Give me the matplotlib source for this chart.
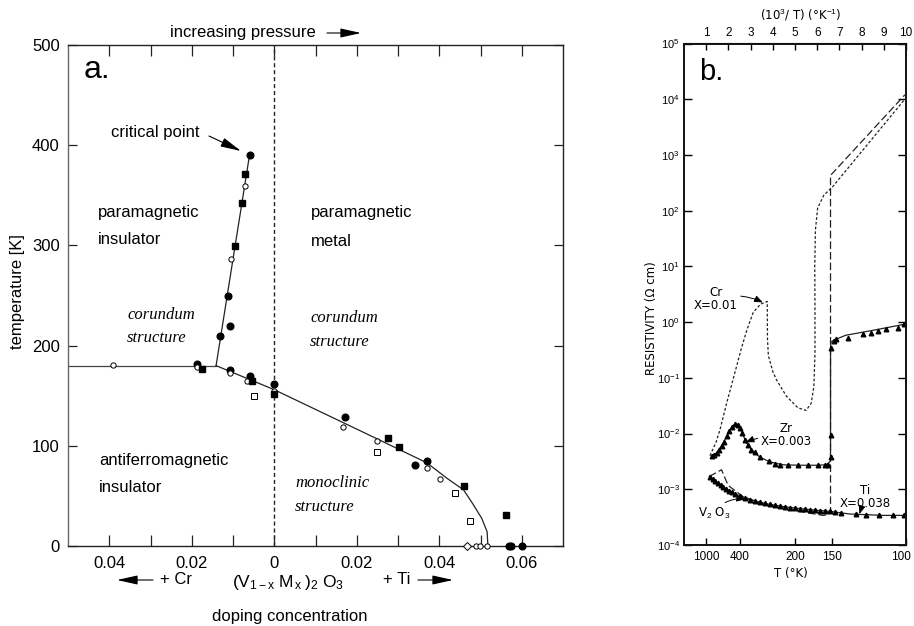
import numpy as np
import matplotlib
matplotlib.use('Agg')
import matplotlib.pyplot as plt
from matplotlib.transforms import ScaledTranslation

plt.rcParams['font.family'] = ['Liberation Sans', 'DejaVu Sans']
plt.rcParams['mathtext.fontset'] = 'custom'
plt.rcParams['mathtext.rm'] = 'Liberation Sans'
plt.rcParams['mathtext.it'] = 'Liberation Sans:italic'

# ---- panel a: phase diagram, x < 0 is Cr doping, x > 0 is Ti doping ----
fc_x = [-0.0060, -0.0112, -0.0107, -0.0131, -0.0187, -0.0107, -0.0060, 0.0,
        0.0172, 0.0340, 0.0370, 0.0568, 0.0574, 0.0600]
fc_T = [390, 250, 220, 210, 182, 176, 170, 162, 129, 80.5, 85, 0, 0, 0]
oc_x = [-0.0072, -0.0105, -0.0187, -0.0390, -0.0108, -0.0066, 0.0, 0.0167,
        0.0249, 0.0370, 0.0402, 0.0490, 0.0498, 0.0516]
oc_T = [359, 286, 179, 180.6, 172.4, 165, 155, 119, 104.5, 77.5, 66.6, 0, 0, 0]
fs_x = [-0.0070, -0.0078, -0.0095, -0.0175, -0.0054, 0.0, 0.0276, 0.0302,
        0.0459, 0.0562]
fs_T = [371, 342, 299, 177, 164.4, 152, 108, 99, 60, 31]
os_x = [-0.0048, 0.0249, 0.0439, 0.0475]
os_T = [149.7, 93.8, 53.2, 25]
od_x = [0.0467]
od_T = [0]

afi_x = [-0.05, -0.0141]
afi_T = [180, 180]
crit_x = [-0.0141, -0.0060]
crit_T = [180, 390]
mit_x = [-0.0141, 0.0, 0.0249, 0.0370, 0.0419, 0.0459, 0.0483, 0.0503,
         0.0516, 0.0518]
mit_T = [180, 156, 107, 83, 67.5, 56, 41, 27.6, 14.3, 0]

xticks_a = [-0.04, -0.03, -0.02, -0.01, 0.0, 0.01, 0.02, 0.03, 0.04, 0.05, 0.06]
xlabels_a = ['0.04', '', '0.02', '', '0', '', '0.02', '', '0.04', '', '0.06']
yticks_a = [0, 100, 200, 300, 400, 500]

# ---- panel b: resistivity vs 1000/T ----
v2o3_x = [1.14, 1.69, 1.99, 2.66, 3.71, 5.21, 6.26, 6.50, 6.60, 6.60, 9.95]
v2o3_rho = [1.7e-3, 2.24e-3, 1.17e-3, 7.4e-4, 5.2e-4, 4.0e-4, 3.4e-4, 3.5e-4,
            4.0e-4, 430, 1.2e4]
cr_x = [1.17, 1.45, 1.62, 1.92, 2.29, 2.60, 2.85, 3.12, 3.45, 3.75, 3.76, 3.80,
        4.00, 4.16, 4.61, 5.13, 5.50, 5.73, 5.85, 5.90, 5.90, 5.89, 5.92, 6.02,
        6.30, 6.70, 9.90]
cr_rho = [4.0e-3, 7.1e-3, 1.17e-2, 3.5e-2, 0.123, 0.355, 0.76, 1.5, 2.1, 2.35,
          0.5, 0.25, 0.13, 0.093, 0.047, 0.029, 0.026, 0.035, 0.07, 0.28, 2.0,
          10, 45, 112, 190, 270, 9.5e3]
zr_x = [1.24, 1.47, 1.77, 2.07, 2.29, 2.44, 2.59, 2.81, 3.11, 3.41, 3.86, 4.46,
        5.21, 5.96, 6.41, 6.60, 6.60, 6.62, 6.78, 7.28, 8.49, 9.10, 9.90]
zr_rho = [4.0e-3, 4.5e-3, 6.8e-3, 1.17e-2, 1.5e-2, 1.45e-2, 1.1e-2, 6.8e-3,
          4.8e-3, 3.8e-3, 3.1e-3, 2.75e-3, 2.7e-3, 2.7e-3, 2.75e-3, 3.2e-3,
          0.35, 0.44, 0.48, 0.58, 0.71, 0.79, 0.91]
zr_mk_x = [1.24, 1.35, 1.47, 1.59, 1.69, 1.80, 1.92, 2.04, 2.16, 2.29, 2.44,
           2.54, 2.63, 2.74, 2.89, 3.04, 3.19, 3.41, 3.83, 4.09, 4.31, 4.69,
           5.13, 5.58, 6.03, 6.33, 6.48, 6.60, 6.60, 6.60, 6.74, 6.86, 7.38,
           8.05, 8.43, 8.73, 9.10, 9.63, 9.93]
zr_mk_rho = [4.0e-3, 4.2e-3, 4.5e-3, 5.1e-3, 6.0e-3, 7.2e-3, 8.9e-3, 1.1e-2,
             1.32e-2, 1.5e-2, 1.45e-2, 1.26e-2, 1.02e-2, 7.8e-3, 6.3e-3,
             5.1e-3, 4.6e-3, 3.8e-3, 3.2e-3, 2.9e-3, 2.75e-3, 2.7e-3, 2.7e-3,
             2.7e-3, 2.7e-3, 2.7e-3, 2.75e-3, 3.8e-3, 9.5e-3, 0.35, 0.46, 0.49,
             0.52, 0.60, 0.65, 0.69, 0.74, 0.79, 0.91]
ti_x = [1.14, 1.47, 2.22, 2.96, 3.71, 4.46, 5.21, 5.96, 6.60, 7.46, 8.20, 8.95,
        9.93]
ti_rho = [1.7e-3, 1.29e-3, 8.5e-4, 6.5e-4, 5.5e-4, 4.9e-4, 4.5e-4, 4.2e-4,
          4.0e-4, 3.6e-4, 3.5e-4, 3.4e-4, 3.4e-4]
ti_mk_x = [1.17, 1.29, 1.41, 1.53, 1.65, 1.77, 1.89, 2.01, 2.14, 2.29, 2.51,
           2.74, 2.96, 3.19, 3.41, 3.64, 3.86, 4.09, 4.31, 4.54, 4.76, 4.99,
           5.21, 5.43, 5.66, 5.88, 6.11, 6.33, 6.56, 6.78, 7.08, 7.75, 8.20,
           8.80, 9.40, 9.93]
ti_mk_rho = [1.65e-3, 1.5e-3, 1.38e-3, 1.27e-3, 1.17e-3, 1.08e-3, 1.0e-3,
             9.4e-4, 8.9e-4, 8.3e-4, 7.6e-4, 7.0e-4, 6.5e-4, 6.1e-4, 5.8e-4,
             5.6e-4, 5.4e-4, 5.2e-4, 5.0e-4, 4.9e-4, 4.7e-4, 4.6e-4, 4.5e-4,
             4.4e-4, 4.3e-4, 4.2e-4, 4.15e-4, 4.1e-4, 4.0e-4, 3.9e-4, 3.75e-4,
             3.55e-4, 3.5e-4, 3.45e-4, 3.4e-4, 3.4e-4]

temp_ticks = [1000, 400, 200, 150, 100]
inv_ticks = [1, 2, 3, 4, 5, 6, 7, 8, 9, 10]

W, H = 914, 626
def fx(p):
    return p / W
def fy(p):
    return 1 - p / H

fig = plt.figure(figsize=(W / 100, H / 100), dpi=100)
ink = '#222222'

# ------------------------ panel a ------------------------
ax1 = fig.add_axes([fx(68), fy(546), (563 - 68) / W, (546 - 45) / H])
ax1.set_xlim(-0.05, 0.07)
ax1.set_ylim(0, 500)
ax1.axvline(0, color=ink, lw=1, ls=(0, (3, 2)))
ax1.plot(afi_x, afi_T, color='#444', lw=0.9)
ax1.plot(crit_x, crit_T, color=ink, lw=0.9)
ax1.plot(mit_x, mit_T, color=ink, lw=0.9)
ax1.plot(fc_x, fc_T, 'o', ms=4.8, color='black', clip_on=False, zorder=5)
ax1.plot(oc_x, oc_T, 'o', ms=3.8, mfc='white', mec='black', mew=0.7,
         clip_on=False, zorder=5)
ax1.plot(fs_x, fs_T, 's', ms=4.3, color='black', clip_on=False, zorder=5)
ax1.plot(os_x, os_T, 's', ms=4.5, mfc='white', mec='black', mew=0.7,
         clip_on=False, zorder=5)
ax1.plot(od_x, od_T, 'D', ms=3.8, mfc='white', mec='black', mew=0.7,
         clip_on=False, zorder=5)

ax1.set_xticks(xticks_a)
ax1.set_xticklabels(xlabels_a)
ax1.set_yticks(yticks_a)
ax1.tick_params(axis='x', direction='in', length=8, width=0.9, top=True,
                labelsize=12, pad=7, color=ink)
ax1.tick_params(axis='y', direction='in', length=6.5, width=0.9, right=True,
                labelsize=12, pad=6, color=ink)
for s in ax1.spines.values():
    s.set_linewidth(1.0)
    s.set_color(ink)
ax1.spines['left'].set_color('#666')

fig.text(fx(18), fy(292), 'temperature [K]', rotation=90, fontsize=12,
         ha='center', va='center')
fig.text(fx(84), fy(70), 'a.', fontsize=23, va='center')

txt_sans = [('critical point', 111, 133), ('paramagnetic', 98, 213),
            ('insulator', 98, 240), ('paramagnetic', 311, 213),
            ('metal', 311, 241), ('antiferromagnetic', 99, 460),
            ('insulator', 99, 487), ('increasing pressure', 170, 33),
            ('+ Cr', 160, 580), ('+ Ti', 383, 580)]
for t, x, y in txt_sans:
    fig.text(fx(x), fy(y), t, fontsize=12, va='center')
txt_it = [('corundum', 127, 315), ('structure', 127, 338),
          ('corundum', 310, 318), ('structure', 310, 342),
          ('monoclinic', 295, 483), ('structure', 295, 507)]
for t, x, y in txt_it:
    fig.text(fx(x), fy(y), t, fontsize=12, va='center', style='italic',
             family='Liberation Serif')
fig.text(fx(232), fy(583),
         r'$(\mathrm{V}_{\mathrm{1-x}}\;\mathrm{M}_{\,\mathrm{x}}\;)_{2}\;\mathrm{O}_{3}$',
         fontsize=12.5, va='center')
fig.text(fx(290), fy(616), 'doping concentration', fontsize=12,
         ha='center', va='center')

arr = dict(arrowstyle='-|>,head_length=0.9,head_width=0.2', lw=0.8,
           color='black', mutation_scale=14, shrinkA=0, shrinkB=0)
for (x0, y0, x1, y1) in [(327, 33, 361, 33), (153, 580, 117, 580),
                         (418, 580, 453, 580), (209, 136, 241, 151)]:
    fig.add_artist(matplotlib.patches.FancyArrowPatch(
        (fx(x0), fy(y0)), (fx(x1), fy(y1)), transform=fig.transFigure, **arr))

# ------------------------ panel b ------------------------
ax2 = fig.add_axes([fx(684), fy(545), (906 - 684) / W, (545 - 43.5) / H])
ax2.set_xlim(0, 10)
ax2.set_yscale('log')
ax2.set_ylim(1e-4, 1e5)
ax2.plot(v2o3_x, v2o3_rho, color=ink, lw=0.9, ls=(0, (6, 2.5)))
ax2.plot(cr_x, cr_rho, color=ink, lw=0.9, ls=(0, (2.2, 1.6)))
ax2.plot(zr_x, zr_rho, color=ink, lw=0.9)
ax2.plot(zr_mk_x, zr_mk_rho, '^', ms=3.3, color='black')
ax2.plot(ti_x, ti_rho, color=ink, lw=0.9)
ax2.plot(ti_mk_x, ti_mk_rho, '^', ms=3.3, color='black')

ax2.set_xticks([1000.0 / t for t in temp_ticks])
ax2.set_xticklabels([str(t) for t in temp_ticks])
ax2.minorticks_off()
ax2.set_yticks([10.0 ** k for k in range(-4, 6)])
ax2.tick_params(axis='x', direction='in', length=5, width=1, labelsize=8.5,
                pad=4)
ax2.tick_params(axis='y', direction='in', length=6, width=1, right=True,
                labelsize=8, pad=3)
ax2.yaxis.set_minor_locator(matplotlib.ticker.NullLocator())
last = ax2.get_xticklabels()[-1]
last.set_horizontalalignment('right')
last.set_transform(last.get_transform() +
                   ScaledTranslation(5 / 100, 0, fig.dpi_scale_trans))
for s in ax2.spines.values():
    s.set_linewidth(1.4)
    s.set_color('#111')
top = ax2.secondary_xaxis('top')
top.set_xticks(inv_ticks)
top.set_xticklabels([str(v) for v in inv_ticks])
top.tick_params(direction='in', length=5, width=1, labelsize=8.5, pad=3)

fig.text(fx(651), fy(318), 'RESISTIVITY (\u03a9 cm)', rotation=90, fontsize=8.5,
         ha='center', va='center', family='DejaVu Sans')
fig.text(fx(791), fy(574), 'T (\u00b0K)', fontsize=8.5, ha='center',
         va='center', family='DejaVu Sans')
fig.text(fx(801), fy(15), '(10$^{3}$/ T) (\u00b0K$^{-1}$)', fontsize=8.5,
         ha='center', va='center', family='DejaVu Sans')
fig.text(fx(699), fy(72), 'b.', fontsize=21, va='center')

small = dict(fontsize=8.5, ha='center', va='center', family='DejaVu Sans',
             linespacing=0.95)
arr_b = dict(arrowstyle='-|>,head_length=0.5,head_width=0.2', lw=0.7,
             color='black', mutation_scale=10, shrinkA=0, shrinkB=0)
ax2.annotate('Cr\nX=0.01', xy=(3.55, 2.25), xycoords='data',
             xytext=(fx(716), fy(299)), textcoords='figure fraction',
             arrowprops=dict(connectionstyle='arc3,rad=-0.2', **arr_b), **small)
ax2.annotate('Zr\nX=0.003', xy=(2.78, 7.0e-3), xycoords='data',
             xytext=(fx(786), fy(435)), textcoords='figure fraction',
             arrowprops=dict(connectionstyle='arc3,rad=0.1', **arr_b), **small)
ax2.annotate('Ti\nX=0.038', xy=(7.9, 3.6e-4), xycoords='data',
             xytext=(fx(865), fy(497)), textcoords='figure fraction',
             arrowprops=dict(connectionstyle='arc3,rad=0', **arr_b), **small)
ax2.annotate(r'V$_{2}$ O$_{3}$', xy=(2.75, 6.6e-4), xycoords='data',
             xytext=(fx(714), fy(513)), textcoords='figure fraction',
             arrowprops=dict(connectionstyle='arc3,rad=-0.3', **arr_b), **small)

fig.savefig('out.png', dpi=100)
